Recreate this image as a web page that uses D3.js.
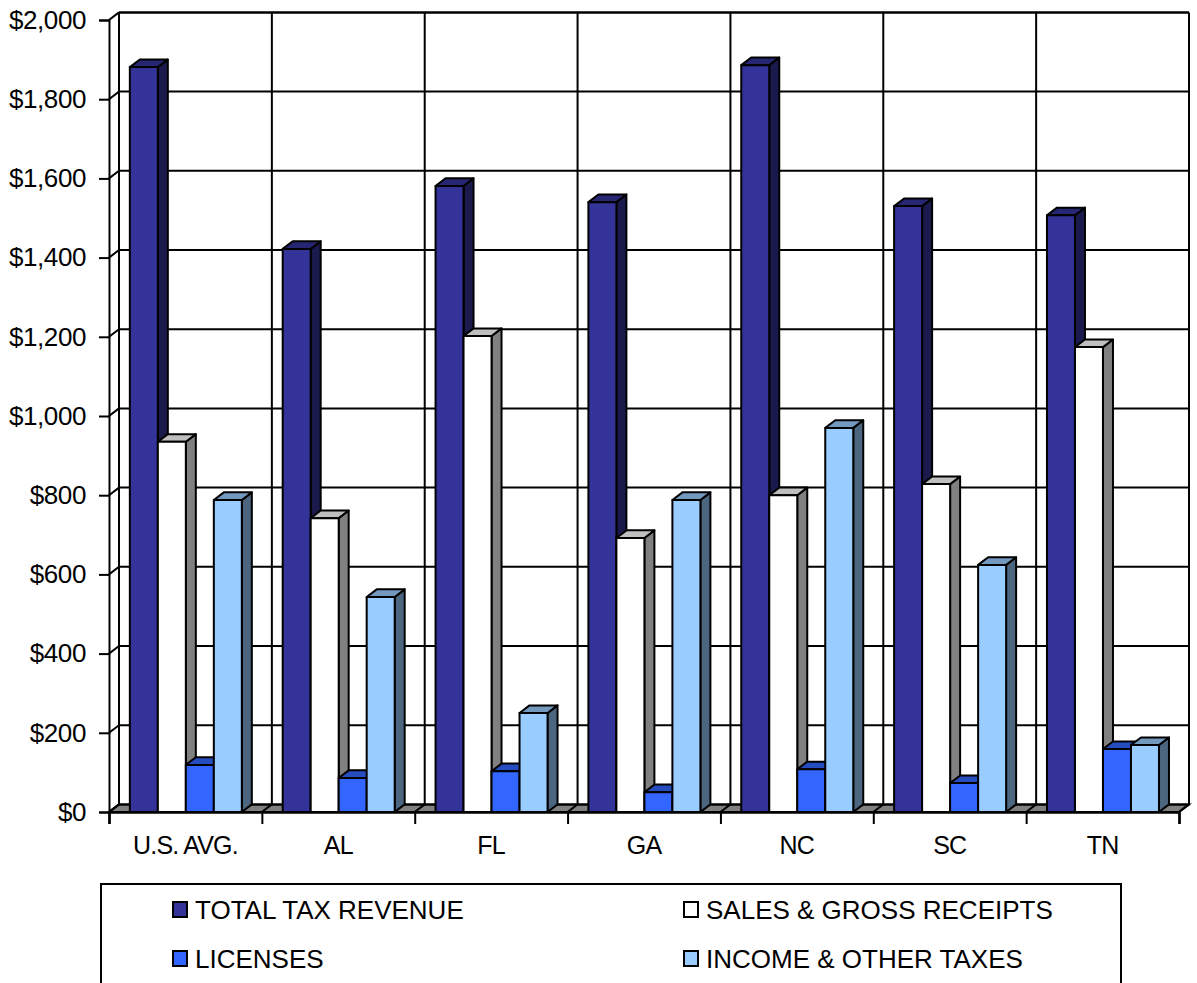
<!DOCTYPE html>
<html>
<head>
<meta charset="utf-8">
<script src="https://cdn.jsdelivr.net/npm/d3@7"></script>
<style>
  html, body { margin: 0; padding: 0; background: #fff; overflow: hidden; }
  svg { display: block; }
  text { font-family: "Liberation Sans", Arial, sans-serif; fill: #000; }
</style>
</head>
<body>
<svg id="chart" width="1197" height="983"></svg>
<script>
// Per-capita tax revenue by state
const categories = ["U.S. AVG.", "AL", "FL", "GA", "NC", "SC", "TN"];
const seriesNames = ["TOTAL TAX REVENUE", "SALES & GROSS RECEIPTS", "LICENSES", "INCOME & OTHER TAXES"];
const totalTax = [1881, 1422, 1581, 1540, 1886, 1530, 1507];
const salesReceipts = [935, 742, 1202, 692, 800, 828, 1174];
const licenses = [119, 86, 103, 50, 108, 73, 159];
const incomeOther = [788, 543, 250, 788, 970, 624, 169];
const yTicks = [0, 200, 400, 600, 800, 1000, 1200, 1400, 1600, 1800, 2000];

const seriesValues = [totalTax, salesReceipts, licenses, incomeOther];
// front, top, side shades for each series
const palettes = [
  { front: "#333399", top: "#262673", side: "#1a1a4d" },
  { front: "#ffffff", top: "#bfbfbf", side: "#808080" },
  { front: "#3366ff", top: "#264dbf", side: "#1a3380" },
  { front: "#99ccff", top: "#7399bf", side: "#4d6680" }
];

const svg = d3.select("#chart");
const depthX = 10, depthY = -7.6;
const plotLeft = 109, plotRight = 1179, plotBase = 812, plotTop = 20;

const y = d3.scaleLinear().domain([0, 2000]).range([plotBase, plotTop]);
const x0 = d3.scaleBand().domain(categories).range([plotLeft, plotRight]);
const barWidth = 28;
const x1 = d3.scaleBand().domain(d3.range(seriesNames.length))
  .range([0, barWidth * seriesNames.length]);
const groupInset = (x0.bandwidth() - barWidth * seriesNames.length) / 2 + 0.4;
// category boundaries for ticks and back-wall verticals
const xEdge = d3.scaleLinear().domain([0, categories.length]).range([plotLeft, plotRight]);
const edges = d3.range(categories.length + 1);

// Floor
const floor = svg.append("g");
floor.append("path")
  .attr("d", d3.line()([[plotLeft, plotBase], [plotLeft + depthX, plotBase + depthY], [plotRight + depthX, plotBase + depthY], [plotRight, plotBase]]) + "Z")
  .attr("fill", "#808080").attr("stroke", "#000").attr("stroke-width", 2);
floor.selectAll("line").data(edges).join("line")
  .attr("x1", d => xEdge(d)).attr("y1", plotBase)
  .attr("x2", d => xEdge(d) + depthX).attr("y2", plotBase + depthY)
  .attr("stroke", "#000").attr("stroke-width", 2);

// Back wall grid and left wall
const grid = svg.append("g").attr("stroke", "#000").attr("fill", "none");
grid.selectAll("line.h").data(yTicks).join("line").attr("class", "h")
  .attr("x1", plotLeft + depthX).attr("x2", plotRight + depthX)
  .attr("y1", d => y(d) + depthY).attr("y2", d => y(d) + depthY)
  .attr("stroke-width", d => d === 2000 ? 2.5 : 2);
grid.selectAll("line.v").data(edges).join("line").attr("class", "v")
  .attr("x1", d => xEdge(d) + depthX).attr("x2", d => xEdge(d) + depthX)
  .attr("y1", y(2000) + depthY).attr("y2", plotBase + depthY)
  .attr("stroke-width", 2);
grid.selectAll("line.d").data(yTicks).join("line").attr("class", "d")
  .attr("x1", plotLeft).attr("x2", plotLeft + depthX)
  .attr("y1", d => y(d)).attr("y2", d => y(d) + depthY)
  .attr("stroke-width", 2);

// Bars as extruded boxes
const groups = svg.append("g").selectAll("g").data(categories).join("g")
  .attr("transform", d => `translate(${x0(d) + groupInset},0)`);

groups.each(function (cat, ci) {
  const bars = d3.select(this).selectAll("g").data(seriesValues.map((vals, si) => ({ si, v: vals[ci] }))).join("g")
    .attr("stroke", "#000").attr("stroke-width", 2).attr("stroke-linejoin", "round");
  const line = d3.line();
  bars.append("path")
    .attr("fill", d => palettes[d.si].side)
    .attr("d", d => {
      const xr = x1(d.si) + x1.bandwidth();
      return line([[xr, y(d.v)], [xr + depthX, y(d.v) + depthY], [xr + depthX, plotBase + depthY], [xr, plotBase]]) + "Z";
    });
  bars.append("path")
    .attr("fill", d => palettes[d.si].top)
    .attr("d", d => {
      const xl = x1(d.si), xr = xl + x1.bandwidth();
      return line([[xl, y(d.v)], [xl + depthX, y(d.v) + depthY], [xr + depthX, y(d.v) + depthY], [xr, y(d.v)]]) + "Z";
    });
  bars.append("rect")
    .attr("fill", d => palettes[d.si].front)
    .attr("x", d => x1(d.si)).attr("width", x1.bandwidth())
    .attr("y", d => y(d.v)).attr("height", d => plotBase - y(d.v));
});

// Axes
const yAxis = d3.axisLeft(y).tickValues(yTicks).tickSize(10).tickPadding(13)
  .tickFormat(d => "$" + d3.format(",")(d));
const gy = svg.append("g").attr("transform", `translate(${plotLeft},0)`).call(yAxis);
gy.selectAll("text").attr("font-size", 26).attr("letter-spacing", -0.4)
  .attr("font-family", "Liberation Sans");
gy.selectAll("line").attr("stroke", "#000").attr("stroke-width", 2);
gy.select(".domain").attr("stroke", "#000").attr("stroke-width", 2);

const xAxis = d3.axisBottom(xEdge).tickValues(edges).tickSize(12).tickFormat("");
const gx = svg.append("g").attr("transform", `translate(0,${plotBase})`).call(xAxis);
gx.selectAll("line").attr("stroke", "#000").attr("stroke-width", 2);
gx.select(".domain").attr("stroke", "#000").attr("stroke-width", 2.5);

svg.append("g").selectAll("text").data(categories).join("text")
  .attr("x", d => x0(d) + x0.bandwidth() / 2)
  .attr("y", 854)
  .attr("text-anchor", "middle")
  .attr("font-size", 25)
  .attr("letter-spacing", -0.8)
  .text(d => d);

// Legend, its box running off the lower edge
const legend = svg.append("g");
legend.append("rect").attr("x", 101).attr("y", 884).attr("width", 1020).attr("height", 130)
  .attr("fill", "#fff").attr("stroke", "#000").attr("stroke-width", 2);
const legendCols = [173, 684];
const legendRows = [902, 951];
const items = legend.selectAll("g").data(seriesNames).join("g")
  .attr("transform", (d, i) => `translate(${legendCols[i % 2]},${legendRows[Math.floor(i / 2)]})`);
items.append("rect").attr("width", 14).attr("height", 15)
  .attr("fill", (d, i) => palettes[i].front).attr("stroke", "#000").attr("stroke-width", 2);
items.append("text").attr("x", 22).attr("y", 17)
  .attr("font-size", 26)
  .text(d => d);
</script>
</body>
</html>
